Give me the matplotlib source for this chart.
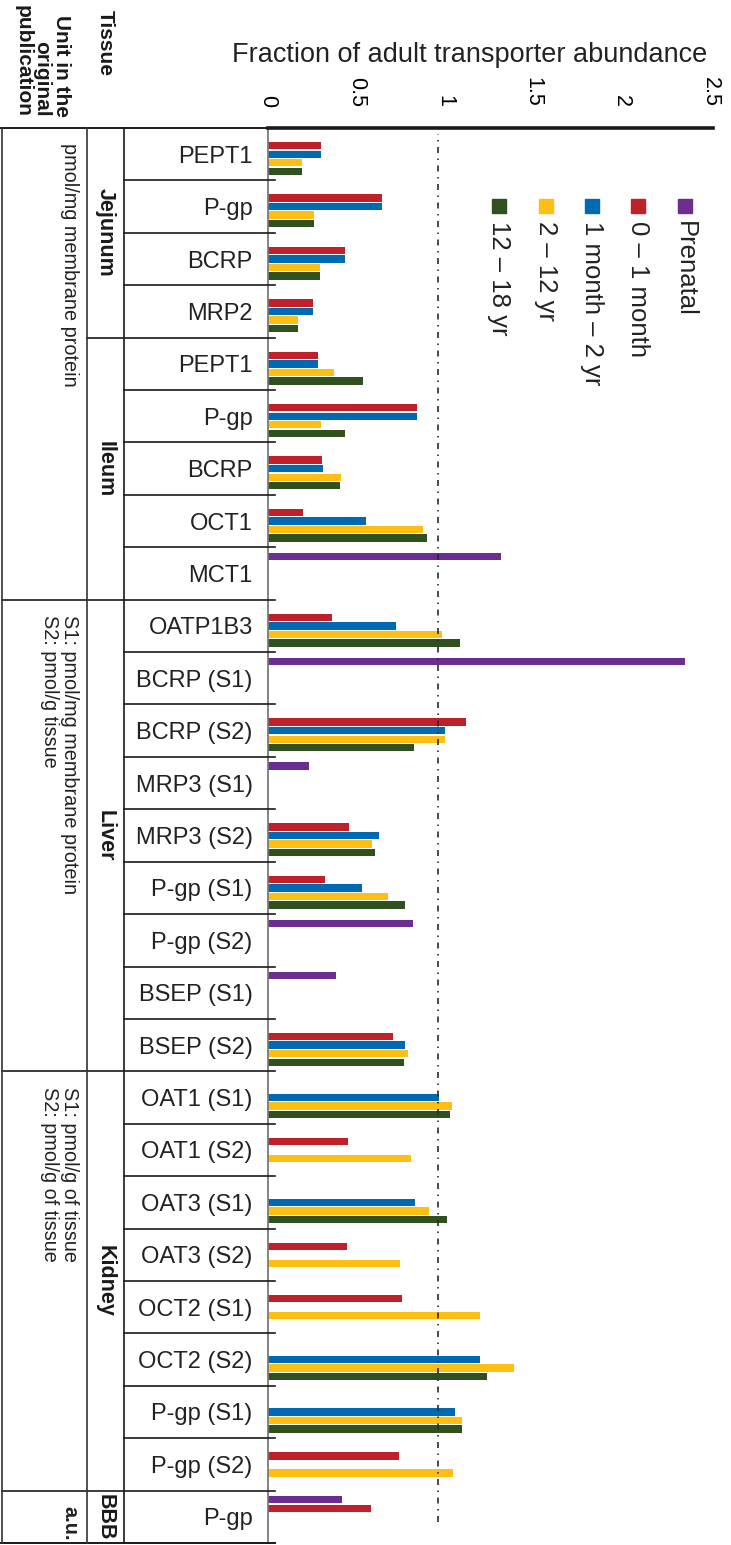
import numpy as np
import matplotlib
matplotlib.use('Agg')
from matplotlib import pyplot as plt
from matplotlib.lines import Line2D
from matplotlib.patches import Rectangle
from matplotlib import transforms

plt.rcParams['font.family'] = ['Liberation Sans', 'DejaVu Sans']

nan = np.nan

# ---- data ----
rows = ['PEPT1', 'P-gp', 'BCRP', 'MRP2',
        'PEPT1', 'P-gp', 'BCRP', 'OCT1', 'MCT1',
        'OATP1B3', 'BCRP (S1)', 'BCRP (S2)', 'MRP3 (S1)', 'MRP3 (S2)',
        'P-gp (S1)', 'P-gp (S2)', 'BSEP (S1)', 'BSEP (S2)',
        'OAT1 (S1)', 'OAT1 (S2)', 'OAT3 (S1)', 'OAT3 (S2)',
        'OCT2 (S1)', 'OCT2 (S2)', 'P-gp (S1)', 'P-gp (S2)',
        'P-gp']
tissues = ['Jejunum', 'Ileum', 'Liver', 'Kidney', 'BBB']
tissue_n = [4, 5, 9, 8, 1]
units = ['pmol/mg membrane protein',
         'S1: pmol/mg membrane protein\nS2: pmol/g tissue',
         'S1: pmol/g of tissue\nS2: pmol/g of tissue',
         'a.u.']
unit_n = [9, 9, 8, 1]

groups = ['Prenatal', '0 \u2013 1 month', '1 month \u2013 2 yr', '2 \u2013 12 yr', '12 \u2013 18 yr']
colors = ['#6b2d90', '#c0202a', '#0069b4', '#ffbf12', '#31501f']

prenatal = [nan, nan, nan, nan,
            nan, nan, nan, nan, 1.32,
            nan, 2.36, nan, 0.23, nan, nan, 0.82, 0.385, nan,
            nan, nan, nan, nan, nan, nan, nan, nan,
            0.42]
month0_1 = [0.30, 0.645, 0.435, 0.255,
            0.285, 0.84, 0.305, 0.20, nan,
            0.36, nan, 1.12, nan, 0.46, 0.32, nan, nan, 0.705,
            nan, 0.45, nan, 0.445, 0.76, nan, nan, 0.74,
            0.58]
month1_yr2 = [0.30, 0.645, 0.435, 0.255,
              0.285, 0.84, 0.31, 0.555, nan,
              0.725, nan, 1.0, nan, 0.625, 0.53, nan, nan, 0.775,
              0.97, nan, 0.83, nan, nan, 1.2, 1.055, nan,
              nan]
yr2_12 = [0.19, 0.26, 0.295, 0.17,
          0.375, 0.30, 0.415, 0.875, nan,
          0.985, nan, 1.0, nan, 0.59, 0.68, nan, nan, 0.79,
          1.04, 0.81, 0.91, 0.745, 1.2, 1.39, 1.1, 1.045,
          nan]
yr12_18 = [0.19, 0.26, 0.295, 0.17,
           0.54, 0.435, 0.405, 0.90, nan,
           1.085, nan, 0.825, nan, 0.605, 0.775, nan, nan, 0.77,
           1.03, nan, 1.015, nan, nan, 1.24, 1.1, nan,
           nan]
series = [prenatal, month0_1, month1_yr2, yr2_12, yr12_18]
xticks = [0, 0.5, 1, 1.5, 2, 2.5]
ref_line = 0.96

# ---- figure ----
W, H = 731, 1545
fig = plt.figure(figsize=(W / 100, H / 100), dpi=100)
top, bot = 128, 1543
ax = fig.add_axes([268 / W, 1 - bot / H, 442 / W, (bot - top) / H])

n = len(rows)
y = np.arange(n)
step = 0.163
for k, (vals, c) in enumerate(zip(series, colors)):
    ax.barh(y + (k - 2) * step, vals, height=0.14, color=c, edgecolor='none')

ax.axvline(ref_line, ymin=0.015, ymax=0.996, color='#2a2a2a', lw=1.2,
           linestyle=(0, (3.6, 3.3, 0.9, 3.3)))

ax.set_xlim(0, 2.5)
ax.set_ylim(n - 0.5, -0.5)
ax.xaxis.tick_top()
ax.set_xticks(xticks)
ax.set_xticklabels(['0', '0.5', '1', '1.5', '2', '2.5'], rotation=270, fontsize=15.5)
ax.tick_params(axis='x', length=0, pad=15)
ax.set_yticks(y)
ax.set_yticklabels(rows, fontsize=17, color='#222222')
ax.tick_params(axis='y', length=0, pad=11)
for s in ['top', 'right', 'bottom']:
    ax.spines[s].set_visible(False)
ax.spines['left'].set_color('#7a7a7a')
ax.spines['left'].set_linewidth(1.3)

# ---- table lines ----
tr = transforms.blended_transform_factory(fig.transFigure, ax.transData)


def hline(x0, x1, yy, lw=1.2, color='#1a1a1a'):
    fig.add_artist(Line2D([x0 / W, x1 / W], [yy, yy], transform=tr, lw=lw,
                          color=color, clip_on=False))


def vline_px(xx, color='#333333'):
    fig.add_artist(Line2D([xx / W, xx / W], [-0.5, n - 0.5], transform=tr, lw=1.2,
                          color=color, clip_on=False))


tissue_edges = np.cumsum(tissue_n)
unit_edges = np.cumsum(unit_n)
for b in range(1, n):
    if b in unit_edges:
        hline(2, 275, b - 0.5)
    elif b in tissue_edges:
        hline(87, 275, b - 0.5)
    else:
        hline(124, 275, b - 0.5)
hline(0, 268, -0.5, lw=1.4)
hline(268, 713, -0.5, lw=2.6)
hline(0, 275, n - 0.5, lw=1.4)
vline_px(2)
vline_px(87)
vline_px(124, color='#1a1a1a')

# tissue labels
start = 0
for name, cnt in zip(tissues, tissue_n):
    ax.text(105 / W, start + cnt / 2 - 0.5, name, transform=tr, rotation=270,
            ha='center', va='center', fontsize=15.5, fontweight='bold', color='#1a1a1a')
    start += cnt

# unit labels
start = 0
for name, cnt in zip(units, unit_n):
    wt = 'bold' if name == 'a.u.' else 'normal'
    ax.text(79 / W, start - 0.5 + 0.29, name, transform=tr, rotation=270,
            ha='right', va='top', multialignment='left', fontsize=14.3,
            color='#222222', linespacing=1.05, fontweight=wt)
    start += cnt

# ---- headers ----
fig.text(42 / W, 1 - 117 / H, 'Unit in the\noriginal\npublication', rotation=270,
         ha='center', va='bottom', multialignment='right', fontsize=15,
         fontweight='bold', linespacing=1.0, color='#1a1a1a')
fig.text(105 / W, 1 - 10 / H, 'Tissue', rotation=270, ha='center', va='top',
         fontsize=15, fontweight='bold', color='#1a1a1a')
fig.text(470 / W, 1 - 55 / H, 'Fraction of adult transporter abundance',
         ha='center', va='center', fontsize=19.5, color='#222222')

# ---- legend ----
leg_x = [685, 638, 592, 546, 499]
for lx, g, c in zip(leg_x, groups, colors):
    fig.add_artist(Rectangle(((lx - 7) / W, 1 - 213 / H), 14 / W, 14 / H,
                             transform=fig.transFigure, color=c))
    fig.text(lx / W, 1 - 221 / H, g, rotation=270, ha='center', va='top',
             fontsize=18.5, color='#222222')

fig.savefig('out.png', dpi=100)
